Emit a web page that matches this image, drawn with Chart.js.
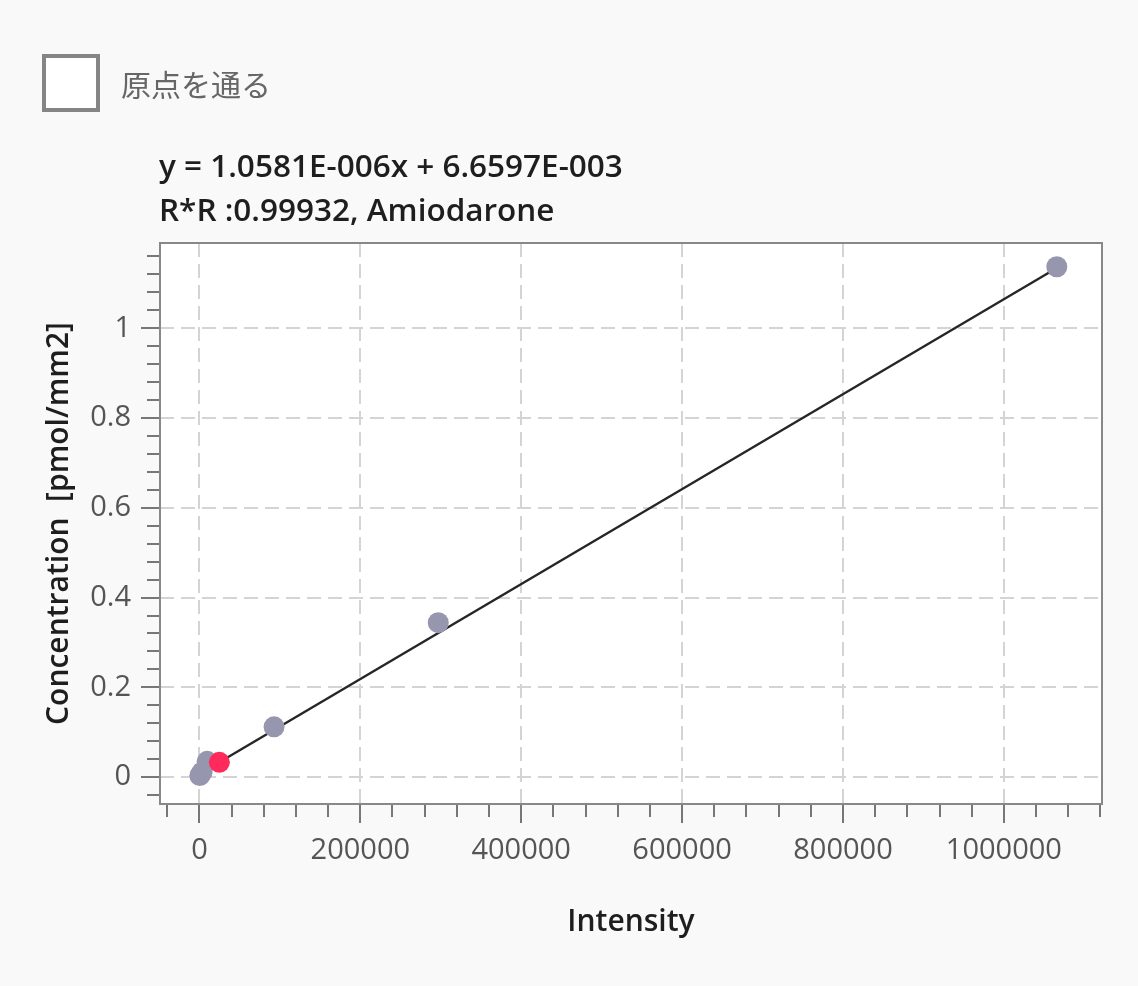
<!DOCTYPE html>
<html><head><meta charset="utf-8">
<script src="https://cdn.jsdelivr.net/npm/chart.js@4.4.1/dist/chart.umd.min.js"></script>
<style>
html,body{margin:0;padding:0;background:#f9f9f9;}
#wrap{position:relative;width:1138px;height:986px;overflow:hidden;background:#f9f9f9;}
canvas{position:absolute;left:0;top:0;}
#cb{position:absolute;left:42px;top:54px;width:50px;height:50px;border:4px solid #858585;background:#fff;}
#cbl{position:absolute;left:121px;top:61px;font-family:"Noto Sans CJK JP";font-size:30px;color:#666;line-height:44px;}
.tl{position:absolute;left:159px;font-family:"Open Sans";font-weight:600;font-size:31.5px;color:#1e1e1e;white-space:pre;line-height:40px;}
#t1{top:145px;} #t2{top:189px;}
</style></head><body>
<div id="wrap">
<canvas id="c" width="1138" height="986"></canvas>
<div id="cb"></div><div id="cbl">原点を通る</div>
<div id="t1" class="tl"></div><div id="t2" class="tl"></div>
</div>
<script>
// ---- data ----
const checkboxLabel = "原点を通る";
const equationLine = "y = 1.0581E-006x + 6.6597E-003";
const rSquaredLine = "R*R :0.99932, Amiodarone";
const xAxisTitle = "Intensity";
const yAxisTitle = "Concentration  [pmol/mm2]";

const stdIntensity = [500, 3400, 9600, 92800, 296900, 1065800];
const stdConc      = [0.0035, 0.0113, 0.035, 0.112, 0.344, 1.137];
const sampleIntensity = [24800];
const sampleConc      = [0.0329];
const fitIntensity = [500, 1065800];
const fitConc      = [0.0072, 1.1344];

const xTickValues = [0, 200000, 400000, 600000, 800000, 1000000];
const yTickValues = [0, 0.2, 0.4, 0.6, 0.8, 1];
const xRange = [-49000, 1122000];
const yRange = [-0.06, 1.19];
const xMinorStep = 40000;
const yMinorStep = 0.04;

document.getElementById('cbl').textContent = checkboxLabel;
document.getElementById('t1').textContent = equationLine;
document.getElementById('t2').textContent = rSquaredLine;

const pts = (xs, ys) => xs.map((x, i) => ({x: x, y: ys[i]}));

const framePlugin = {
  id: 'frame',
  beforeDraw(chart) {
    const a = chart.chartArea, ctx = chart.ctx;
    ctx.save();
    ctx.fillStyle = '#ffffff';
    ctx.fillRect(a.left, a.top, a.right - a.left, a.bottom - a.top);
    ctx.restore();
  },
  afterDraw(chart) {
    const a = chart.chartArea, ctx = chart.ctx;
    const xs = chart.scales.x, ys = chart.scales.y;
    ctx.save();
    ctx.strokeStyle = '#777777';
    ctx.lineWidth = 2;
    ctx.beginPath();
    for (let v = Math.ceil(xs.min / xMinorStep) * xMinorStep; v <= xs.max; v += xMinorStep) {
      if (Math.abs(v % 200000) < 1) continue;
      const px = Math.round(xs.getPixelForValue(v));
      ctx.moveTo(px, a.bottom); ctx.lineTo(px, a.bottom + 13);
    }
    for (let k = Math.ceil(ys.min / yMinorStep); k * yMinorStep <= ys.max; k++) {
      if (k % 5 === 0) continue;
      const py = Math.round(ys.getPixelForValue(k * yMinorStep));
      ctx.moveTo(a.left, py); ctx.lineTo(a.left - 13, py);
    }
    ctx.stroke();
    ctx.strokeStyle = '#888888';
    ctx.strokeRect(a.left, a.top, a.right - a.left, a.bottom - a.top);
    ctx.restore();
  }
};

const tickFont = {family: 'Open Sans', size: 29};
const titleFont = {family: 'Open Sans', size: 30, weight: '600'};

new Chart(document.getElementById('c'), {
  type: 'scatter',
  data: {
    datasets: [
      {
        type: 'line', data: pts(fitIntensity, fitConc), showLine: true,
        borderColor: '#262626', borderWidth: 2.4, pointRadius: 0, order: 3
      },
      {
        data: pts(stdIntensity, stdConc), backgroundColor: '#9696ae',
        borderWidth: 0, pointRadius: 10.5, order: 2
      },
      {
        data: pts(sampleIntensity, sampleConc), backgroundColor: '#fe2a5c',
        borderWidth: 0, pointRadius: 10.5, order: 1
      }
    ]
  },
  options: {
    responsive: false, animation: false, devicePixelRatio: 1,
    layout: {padding: {left: 40, right: 36, top: 243, bottom: 10}},
    plugins: {legend: {display: false}, tooltip: {enabled: false}},
    scales: {
      x: {
        type: 'linear', min: xRange[0], max: xRange[1],
        afterBuildTicks: s => { s.ticks = xTickValues.map(v => ({value: v})); },
        afterFit: s => { s.height = 172; },
        ticks: {font: tickFont, color: '#555555', padding: 10, maxRotation: 0, autoSkip: false,
                callback: v => String(v)},
        grid: {color: '#d4d4d4', lineWidth: 2, tickColor: '#777777', tickWidth: 2, tickLength: 19},
        border: {display: false, dash: [14, 7]},
        title: {display: true, text: xAxisTitle, font: titleFont, color: '#1e1e1e',
                padding: {top: 0, bottom: 36}}
      },
      y: {
        type: 'linear', min: yRange[0], max: yRange[1],
        afterBuildTicks: s => { s.ticks = yTickValues.map(v => ({value: v})); },
        afterFit: s => { s.width = 120; },
        ticks: {font: tickFont, color: '#555555', padding: 10, autoSkip: false,
                callback: v => String(v)},
        grid: {color: '#d4d4d4', lineWidth: 2, tickColor: '#777777', tickWidth: 2, tickLength: 19},
        border: {display: false, dash: [14, 7]},
        title: {display: true, text: yAxisTitle, font: titleFont, color: '#1e1e1e',
                padding: {top: 1, bottom: 0}}
      }
    }
  },
  plugins: [framePlugin]
});
</script>
</body></html>
